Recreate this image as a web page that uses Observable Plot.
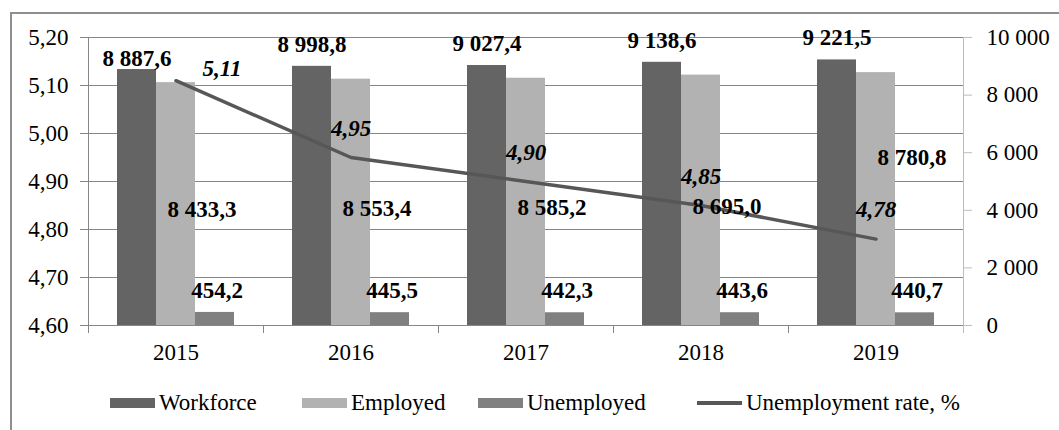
<!DOCTYPE html>
<html>
<head>
<meta charset="utf-8">
<script src="https://cdn.jsdelivr.net/npm/d3@7"></script>
<script src="https://cdn.jsdelivr.net/npm/@observablehq/plot@0.6"></script>
<style>
  html, body { margin: 0; padding: 0; background: #fff; overflow: hidden; }
  #wrap { position: relative; width: 1059px; height: 430px; font-family: "Liberation Serif", "Times New Roman", serif; }
  #frame { position: absolute; left: 10px; top: 12px; width: 1200px; height: 600px; border-left: 2px solid #8f8f8f; border-top: 2px solid #8f8f8f; box-sizing: border-box; }
  #chart { position: absolute; left: 0; top: 0; }
  .lg { position: absolute; top: 389px; height: 28px; display: flex; align-items: center; font-size: 23px; color: #000; white-space: nowrap; }
  .sw { width: 45px; height: 10px; margin-right: 4px; }
  .ln { width: 45px; height: 4px; margin-right: 4px; background: #575757; }
</style>
</head>
<body>
<div id="wrap">
  <div id="frame"></div>
  <div id="chart"></div>
  <div id="legend"></div>
</div>
<script>
// ---- data ----
const years = ["2015", "2016", "2017", "2018", "2019"];
const workforce = [8887.6, 8998.8, 9027.4, 9138.6, 9221.5];
const employed = [8433.3, 8553.4, 8585.2, 8695.0, 8780.8];
const unemployed = [454.2, 445.5, 442.3, 443.6, 440.7];
const rate = [5.11, 4.95, 4.90, 4.85, 4.78];
const rateTicks = [4.6, 4.7, 4.8, 4.9, 5.0, 5.1, 5.2];
const countTicks = [0, 2000, 4000, 6000, 8000, 10000];
const seriesNames = ["Workforce", "Employed", "Unemployed", "Unemployment rate, %"];
const seriesColors = ["#646464", "#b2b2b2", "#808080", "#575757"];

// ---- layout / style ----
const W = 1059, H = 370, mL = 88, mR = 96, mT = 37, mB = 45;
const band = (W - mL - mR) / years.length;
const barW = 39;
const inset = (band - barW) / 2;
const rateMin = rateTicks[0], rateMax = rateTicks[rateTicks.length - 1];
const countMax = countTicks[countTicks.length - 1];
const yOf = r => (r - rateMin) / (rateMax - rateMin) * countMax;
const rateOf = v => rateMin + v / countMax * (rateMax - rateMin);

const loc = d3.formatLocale({decimal: ",", thousands: " ", grouping: [3], currency: ["", ""]});
const fmt1 = loc.format(",.1f");
const fmtCount = loc.format(",d");
const fmt2 = loc.format(".2f");

const rows = years.map((year, i) => ({
  year, workforce: workforce[i], employed: employed[i], unemployed: unemployed[i], rate: rate[i]
}));
const first = rows.filter(d => d.year === years[0]);
const rest = rows.filter(d => d.year !== years[0]);
const last = rows.filter(d => d.year === years[years.length - 1]);
const mid = rows.filter(d => d.year !== years[years.length - 1]);

const grid = "#868686";
const bold = {fontWeight: "bold", fill: "#000"};

const chart = Plot.plot({
  width: W, height: H,
  marginLeft: mL, marginRight: mR, marginTop: mT, marginBottom: mB,
  style: {fontFamily: "'Liberation Serif', 'Times New Roman', serif", fontSize: "23px", background: "transparent", color: "#000", overflow: "visible"},
  x: {type: "band", domain: years, padding: 0, label: null},
  y: {domain: [0, countMax], label: null},
  marks: [
    Plot.gridY(rateTicks.map(yOf), {stroke: grid, strokeOpacity: 1}),
    Plot.barY(rows, {x: "year", y: "workforce", fill: seriesColors[0], insetLeft: inset, insetRight: inset, dx: -barW}),
    Plot.barY(rows, {x: "year", y: "employed", fill: seriesColors[1], insetLeft: inset, insetRight: inset}),
    Plot.barY(rows, {x: "year", y: "unemployed", fill: seriesColors[2], insetLeft: inset, insetRight: inset, dx: barW}),
    Plot.ruleY([0], {stroke: grid}),
    Plot.ruleX(years.slice(0, 1), {x: d => d, dx: -band / 2, y1: countMax, y2: 0, insetBottom: -8, stroke: grid}),
    Plot.ruleX(years.slice(1), {x: d => d, dx: -band / 2, y1: 0, y2: 0, insetBottom: -8, stroke: grid}),
    Plot.ruleX(years.slice(-1), {x: d => d, dx: band / 2, y1: countMax, y2: 0, insetBottom: -8, stroke: "#bdbdbd"}),
    Plot.axisY(rateTicks.map(yOf), {anchor: "left", tickSize: 8, tickPadding: 12, stroke: grid, tickFormat: v => fmt2(rateOf(v)), label: null}),
    Plot.axisY(countTicks, {anchor: "right", tickSize: 8, tickPadding: 15, stroke: "#bdbdbd", tickFormat: fmtCount, label: null}),
    Plot.axisX({tickSize: 0, tickPadding: 18, label: null}),
    Plot.line(rows, {x: "year", y: d => yOf(d.rate), stroke: seriesColors[3], strokeWidth: 3.5}),
    // workforce labels
    Plot.text(rest, {x: "year", y: "workforce", text: d => fmt1(d.workforce), dx: -barW, dy: -22, ...bold}),
    Plot.text(first, {x: "year", y: "workforce", text: d => fmt1(d.workforce), dx: -barW, dy: -11, ...bold}),
    // employed labels
    Plot.text(mid, {x: "year", y: d => d.employed / 2, text: d => fmt1(d.employed), dx: 26, dy: 6, ...bold}),
    Plot.text(last, {x: "year", y: d => d.employed / 2, text: d => fmt1(d.employed), dx: 36, dy: -41, ...bold}),
    // unemployed labels
    Plot.text(rows, {x: "year", y: "unemployed", text: d => fmt1(d.unemployed), dx: barW + 2, dy: -22, ...bold}),
    // rate labels
    Plot.text(rest, {x: "year", y: d => yOf(d.rate), text: d => fmt2(d.rate), dy: -29, fontStyle: "italic", ...bold}),
    Plot.text(first, {x: "year", y: d => yOf(d.rate), text: d => fmt2(d.rate), dx: 46, dy: -12, fontStyle: "italic", ...bold})
  ]
});
document.getElementById("chart").appendChild(chart);

// ---- legend ----
const legendLeft = [110, 302, 478, 697];
const legend = document.getElementById("legend");
seriesNames.forEach((name, i) => {
  const item = document.createElement("div");
  item.className = "lg";
  item.style.left = legendLeft[i] + "px";
  const sw = document.createElement("div");
  if (i < 3) { sw.className = "sw"; sw.style.background = seriesColors[i]; }
  else { sw.className = "ln"; }
  const t = document.createElement("span");
  t.textContent = name;
  item.appendChild(sw);
  item.appendChild(t);
  legend.appendChild(item);
});
</script>
</body>
</html>
